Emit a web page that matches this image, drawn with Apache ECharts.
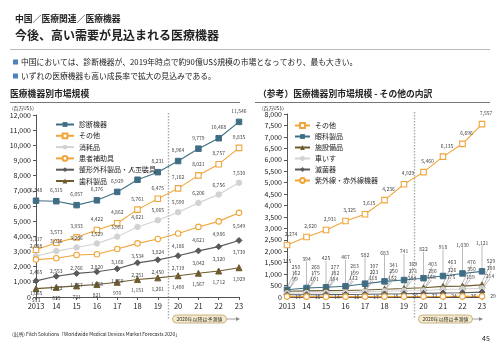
<!DOCTYPE html>
<html><head><meta charset="utf-8">
<script src="https://cdn.jsdelivr.net/npm/echarts@6/dist/echarts.min.js"></script>
<style>html,body{margin:0;padding:0;background:#fff}#c{width:500px;height:346px}</style>
</head><body><div id="c"></div>
<script>
// ---------- data ----------
const years = [2013,2014,2015,2016,2017,2018,2019,2020,2021,2022,2023];
const yearLabels = ['2013','14','15','16','17','18','19','20','21','22','23'];
const forecastSplit = 2019.5;

// Left chart: 医療機器別市場規模 (百万US$)
const leftNames = ['診断機器','その他','消耗品','患者補助具','整形外科製品・人工装具','歯科製品'];
const diagnostic  = [6348,6315,6057,6376,6929,7731,8231,8964,9779,10468,11546];
const others      = [3117,3573,3933,4422,4862,5761,6475,7162,8021,8757,9835];
const consumables = [2688,3026,3266,3529,3981,4621,5065,5590,6206,6756,7530];
const patientAids = [2465,2553,2766,2820,3168,3534,3824,4186,4621,4986,5549];
const orthopedic  = [1065,1372,1557,1668,1859,2251,2450,2719,3042,3320,3730];
const dental      = [553,635,731,821,970,1151,1261,1400,1567,1712,1929];
const leftTicks = {min:0, max:12000, interval:1000};

// Right chart: その他の内訳 (百万US$)
const rightNames = ['その他','眼科製品','施設備品','車いす','滅菌器','紫外線・赤外線機器'];
const othersR     = [2274,2620,2931,3325,3615,4236,4929,5460,6135,6696,7557];
const ophthalmic  = [315,394,425,467,582,683,741,822,918,1030,1121];
const facility    = [250,268,277,283,307,341,369,403,463,476,529];
const wheelchairs = [162,175,182,199,223,250,271,286,326,350,380];
const sterilizers = [99,101,104,112,118,132,144,158,175,189,214];
const uvIr        = [17,15,14,16,17,18,20,22,24,26,29];
const rightTicks = {min:0, max:8000, interval:500};

// ---------- styles ----------
const FONT = '"Noto Sans CJK JP","Noto Sans",sans-serif';
const TEAL = '#3f6e84', ORANGE = '#f0a53a', LGRAY = '#d2d2d2', DGRAY = '#5a5a5a', BROWN = '#6e5c2f';
const fmt = v => Number(v).toLocaleString('en-US');
const pairs = arr => arr.map((v,i)=>[years[i], v]);

function series(name, data, gi, color, symbol, open, labelCfg, extra) {
  const s = {
    name, type:'line', xAxisIndex:gi, yAxisIndex:gi, data:pairs(data),
    symbol, symbolSize: symbol==='triangle'?6:(symbol==='diamond'?6:5.5),
    showAllSymbol:true,
    lineStyle:{color, width:1.1},
    itemStyle: open ? {color:'#fff', borderColor:color, borderWidth:1.1} : {color, borderColor:color},
    label: Object.assign({show:true, fontSize:5, color:'#444', fontFamily:FONT,
      formatter: p => fmt(p.value[1])}, labelCfg || {}),
    emphasis:{disabled:true}, animation:false, z:3
  };
  return Object.assign(s, extra || {});
}

const axisLabelStyle = {fontSize:7.5, color:'#222', fontFamily:FONT};
function xAxis(gi){
  return {type:'value', gridIndex:gi, min:2013, max:2023, interval:1,
    axisLine:{show:true, onZero:false, lineStyle:{color:'#555', width:1}},
    axisTick:{show:true, length:3, lineStyle:{color:'#555'}},
    splitLine:{show:false},
    axisLabel:Object.assign({margin:5, formatter: v => yearLabels[years.indexOf(v)] || ''}, axisLabelStyle)};
}
function yAxis(gi, t){
  return {type:'value', gridIndex:gi, min:t.min, max:t.max, interval:t.interval,
    axisLine:{show:true, lineStyle:{color:'#555', width:1}},
    axisTick:{show:true, length:3, inside:false, lineStyle:{color:'#555'}},
    splitLine:{show:false},
    axisLabel:Object.assign({margin:5, formatter: v => fmt(v)}, axisLabelStyle, {fontSize:7})};
}

const leaderLine = {show:true, length2:0, lineStyle:{color:'#777', width:0.5}};

const option = {
  backgroundColor:'#fff',
  animation:false,
  textStyle:{fontFamily:FONT},
  grid:[
    {left:36, top:115, width:203, height:182},
    {left:287, top:114, width:195, height:183}
  ],
  xAxis:[xAxis(0), xAxis(1)],
  yAxis:[yAxis(0,leftTicks), yAxis(1,rightTicks)],
  legend:[
    {data:leftNames, orient:'vertical', left:50, top:116, itemWidth:18, itemHeight:6, itemGap:4.3,
     textStyle:{fontSize:7, color:'#222', fontFamily:FONT}, selectedMode:false},
    {data:rightNames, orient:'vertical', left:289, top:117, itemWidth:15, itemHeight:6, itemGap:4,
     textStyle:{fontSize:7, color:'#222', fontFamily:FONT}, selectedMode:false}
  ],
  series:[
    series(leftNames[0], diagnostic, 0, TEAL, 'rect', false, {position:'top', distance:5}),
    series(leftNames[1], others, 0, ORANGE, 'rect', true, {position:'top', distance:5}),
    series(leftNames[2], consumables, 0, LGRAY, 'circle', false, {position:'top', distance:4}),
    series(leftNames[3], patientAids, 0, ORANGE, 'circle', true, {position:'bottom', distance:7}),
    series(leftNames[4], orthopedic, 0, DGRAY, 'diamond', false, {position:'bottom', distance:6}),
    series(leftNames[5], dental, 0, BROWN, 'triangle', false, {position:'bottom', distance:5}),

    series(rightNames[0], othersR, 1, ORANGE, 'rect', true, {position:'top', distance:5, offset:[4,0]}),
    series(rightNames[1], ophthalmic, 1, TEAL, 'rect', false, {position:'top', distance:3},
      {labelLayout:{dy:-20}, labelLine:leaderLine}),
    series(rightNames[2], facility, 1, BROWN, 'triangle', false, {position:'top', distance:3},
      {labelLayout:{dx:9, dy:-15}, labelLine:leaderLine}),
    series(rightNames[3], wheelchairs, 1, LGRAY, 'circle', false, {position:'top', distance:3},
      {labelLayout:{dx:9, dy:-11}, labelLine:leaderLine}),
    series(rightNames[4], sterilizers, 1, DGRAY, 'diamond', false, {position:'top', distance:3},
      {labelLayout:{dx:8, dy:-7}, labelLine:leaderLine}),
    series(rightNames[5], uvIr, 1, ORANGE, 'circle', true, {position:'right', distance:5})
  ]
};

const chart = echarts.init(document.getElementById('c'), null, {renderer:'canvas'});
chart.setOption(option);

// ---------- annotations ----------
function txt(x, y, text, size, bold, color, align){
  return {type:'text', silent:true, style:{x, y, text, fill:color||'#222',
    font:(bold?'bold ':'')+size+'px '+FONT, textAlign:align||'left', textVerticalAlign:'middle'}};
}
function hline(x1,x2,y,color,w){
  return {type:'line', silent:true, shape:{x1,y1:y,x2,y2:y}, style:{stroke:color, lineWidth:w||1}};
}
const g = [
  txt(15, 19, '中国／医療関連／医療機器', 8.8, true),
  txt(15, 35, '今後、高い需要が見込まれる医療機器', 12, true),
  hline(10, 490, 49.5, '#bbbbbb', 1),
  {type:'rect', silent:true, shape:{x:13, y:59.5, width:5, height:5}, style:{fill:'#4f81bd'}},
  txt(21, 62.5, '中国においては、診断機器が、2019年時点で約90億US$規模の市場となっており、最も大きい。', 7.8, false),
  {type:'rect', silent:true, shape:{x:13, y:73.5, width:5, height:5}, style:{fill:'#4f81bd'}},
  txt(21, 76.5, 'いずれの医療機器も高い成長率で拡大の見込みである。', 7.8, false),
  txt(10, 94, '医療機器別市場規模', 8.8, true),
  hline(10, 240, 102.5, '#777', 1),
  txt(258, 94, '（参考）医療機器別市場規模 - その他の内訳', 8.8, true),
  hline(255, 490, 102.5, '#777', 1),
  txt(12, 108, '(百万US$)', 4.8, false),
  txt(262, 108, '(百万US$)', 4.8, false),
  txt(12, 334, '(出所) Fitch Solutions「Worldwide Medical Devices Market Forecasts 2020」', 4.8, false),
  txt(482, 338, '45', 7, false)
];

[0,1].forEach(gi=>{
  const top = chart.convertToPixel({gridIndex:gi}, [forecastSplit, gi===0?leftTicks.max:rightTicks.max]);
  const endX = chart.convertToPixel({gridIndex:gi}, [2023, 0])[0];
  const x = Math.round(top[0]) + 0.5;
  const by = 319;
  g.push({type:'line', silent:true, shape:{x1:x, y1:top[1]-2, x2:x, y2:by},
    style:{stroke:'#aaaaaa', lineWidth:1.4, lineDash:[1.5,1.5]}});
  const bx = x + 4, bw = 54, bh = 8;
  g.push({type:'rect', silent:true, shape:{x:bx, y:by-bh/2, width:bw, height:bh, r:4},
    style:{fill:'#f6ebcb', stroke:'#bfa36a', lineWidth:0.8}});
  g.push(txt(bx+bw/2, by+0.3, '2020年以降は予測値', 5, false, '#333', 'center'));
  g.push({type:'line', silent:true, shape:{x1:bx+bw, y1:by, x2:endX-2, y2:by}, style:{stroke:'#888', lineWidth:0.8}});
  g.push({type:'polygon', silent:true, shape:{points:[[endX-3,by-2],[endX+1,by],[endX-3,by+2]]}, style:{fill:'#888'}});
});

chart.setOption({graphic:g});
</script>
</body></html>
